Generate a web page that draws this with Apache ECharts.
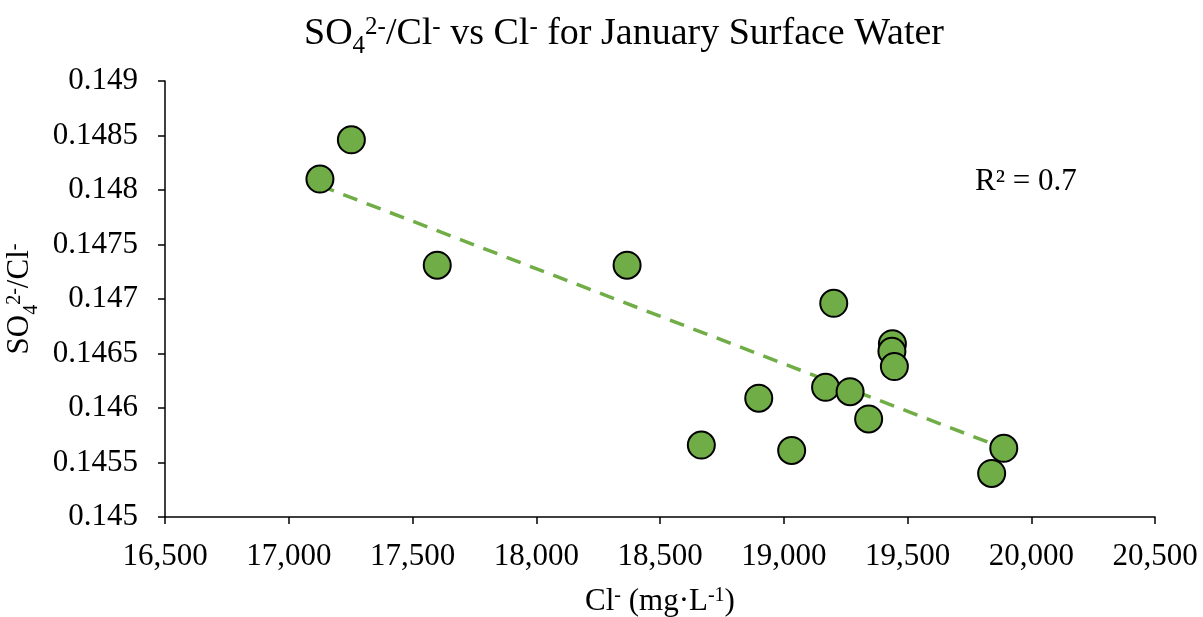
<!DOCTYPE html>
<html>
<head>
<meta charset="utf-8">
<title>SO4/Cl vs Cl – January Surface Water</title>
<script src="https://cdn.jsdelivr.net/npm/echarts@6/dist/echarts.min.js"></script>
<style>
  html, body { margin: 0; padding: 0; background: #ffffff; }
  #chart { width: 1203px; height: 617px; }
</style>
</head>
<body>
<div id="chart"></div>
<script>
// Chloride concentration (mg·L-1) for each January surface-water sample
const chloride = [17126, 17253, 17600, 18367, 19202, 19439, 19437, 19447,
                  19169, 19268, 19343, 18899, 18667, 19032, 19889, 19840];
// Sulfate / chloride ratio of the same samples
const ratio = [0.14810, 0.14846, 0.14731, 0.14731, 0.14696, 0.14659, 0.14652, 0.14638,
               0.14619, 0.14615, 0.14590, 0.14609, 0.14566, 0.14561, 0.14563, 0.14540];

const xTickLabels = ['16,500', '17,000', '17,500', '18,000', '18,500', '19,000', '19,500', '20,000', '20,500'];
const yTickLabels = ['0.145', '0.1455', '0.146', '0.1465', '0.147', '0.1475', '0.148', '0.1485', '0.149'];

// Ordinary least-squares trendline and its coefficient of determination
function linearFit(xs, ys) {
  const n = xs.length;
  const mx = xs.reduce((a, b) => a + b, 0) / n;
  const my = ys.reduce((a, b) => a + b, 0) / n;
  let sxy = 0, sxx = 0, syy = 0;
  for (let i = 0; i < n; i++) {
    const dx = xs[i] - mx, dy = ys[i] - my;
    sxy += dx * dy; sxx += dx * dx; syy += dy * dy;
  }
  const slope = sxy / sxx;
  return { slope, intercept: my - slope * mx, r2: (sxy * sxy) / (sxx * syy) };
}
const fit = linearFit(chloride, ratio);
const xMin = Math.min(...chloride), xMax = Math.max(...chloride);
const trend = [[xMin, fit.intercept + fit.slope * xMin], [xMax, fit.intercept + fit.slope * xMax]];

const FONT = "'Liberation Serif', 'Times New Roman', serif";
const GREEN = '#70AD47';

// Rich-text styles for chemical formulas: normal, superscript, subscript
const richBase = (size) => {
  const small = Math.round(size * 0.65);
  return {
    n:   { fontFamily: FONT, fontWeight: 'normal', fontSize: size, color: '#000', lineHeight: size },
    sup: { fontFamily: FONT, fontWeight: 'normal', fontSize: small, color: '#000', lineHeight: small, verticalAlign: 'top' },
    sub: { fontFamily: FONT, fontWeight: 'normal', fontSize: small, color: '#000', lineHeight: small, verticalAlign: 'bottom', padding: [0, 0, -6, 0] }
  };
};

const chart = echarts.init(document.getElementById('chart'), null, { renderer: 'canvas' });

chart.setOption({
  animation: false,
  backgroundColor: '#ffffff',
  title: {
    text: '{n|SO}{sub|4}{sup|2-}{n|/Cl}{sup|-}{n| vs Cl}{sup|-}{n| for January Surface Water}',
    left: 304,
    top: 15,
    padding: 0,
    textStyle: { fontWeight: 'normal', rich: richBase(38) }
  },
  grid: { left: 165, right: 48, top: 81, bottom: 100, containLabel: false, outerBoundsMode: 'none' },
  xAxis: {
    type: 'value',
    min: 16500, max: 20500, interval: 500,
    name: '{n|Cl}{sup|-}{n| (mg·L}{sup|-1}{n|)}',
    nameLocation: 'middle',
    nameGap: 69,
    nameTextStyle: { rich: richBase(31) },
    axisLine: { show: true, lineStyle: { color: '#000', width: 1.5 } },
    axisTick: { show: true, inside: false, length: 7, lineStyle: { color: '#000', width: 1.5 } },
    axisLabel: {
      margin: 24,
      fontFamily: FONT, fontSize: 31, color: '#000',
      formatter: (v, i) => xTickLabels[i]
    },
    splitLine: { show: false }
  },
  yAxis: {
    type: 'value',
    min: 0.145, max: 0.149, interval: 0.0005,
    name: '{n|SO}{sub|4}{sup|2-}{n|/Cl}{sup|-}',
    nameLocation: 'middle',
    nameRotate: 90,
    nameGap: 120,
    nameTextStyle: { rich: richBase(31) },
    axisLine: { show: true, lineStyle: { color: '#000', width: 1.5 } },
    axisTick: { show: true, inside: false, length: 7, lineStyle: { color: '#000', width: 1.5 } },
    axisLabel: {
      margin: 27,
      fontFamily: FONT, fontSize: 31, color: '#000',
      formatter: (v, i) => yTickLabels[i]
    },
    splitLine: { show: false }
  },
  graphic: [{
    type: 'text',
    left: 975, top: 166,
    style: {
      text: 'R² = ' + fit.r2.toFixed(1),
      font: "31px 'Liberation Serif', 'Times New Roman', serif",
      fill: '#000'
    }
  }],
  series: [
    {
      name: 'Trendline',
      type: 'line',
      data: trend,
      showSymbol: false,
      silent: true,
      z: 1,
      lineStyle: { color: GREEN, width: 3.5, type: [15, 10] }
    },
    {
      name: 'Samples',
      type: 'scatter',
      data: chloride.map((x, i) => [x, ratio[i]]),
      symbol: 'circle',
      symbolSize: 27,
      z: 2,
      itemStyle: { color: GREEN, borderColor: '#000', borderWidth: 2, opacity: 1 }
    }
  ]
});
</script>
</body>
</html>
